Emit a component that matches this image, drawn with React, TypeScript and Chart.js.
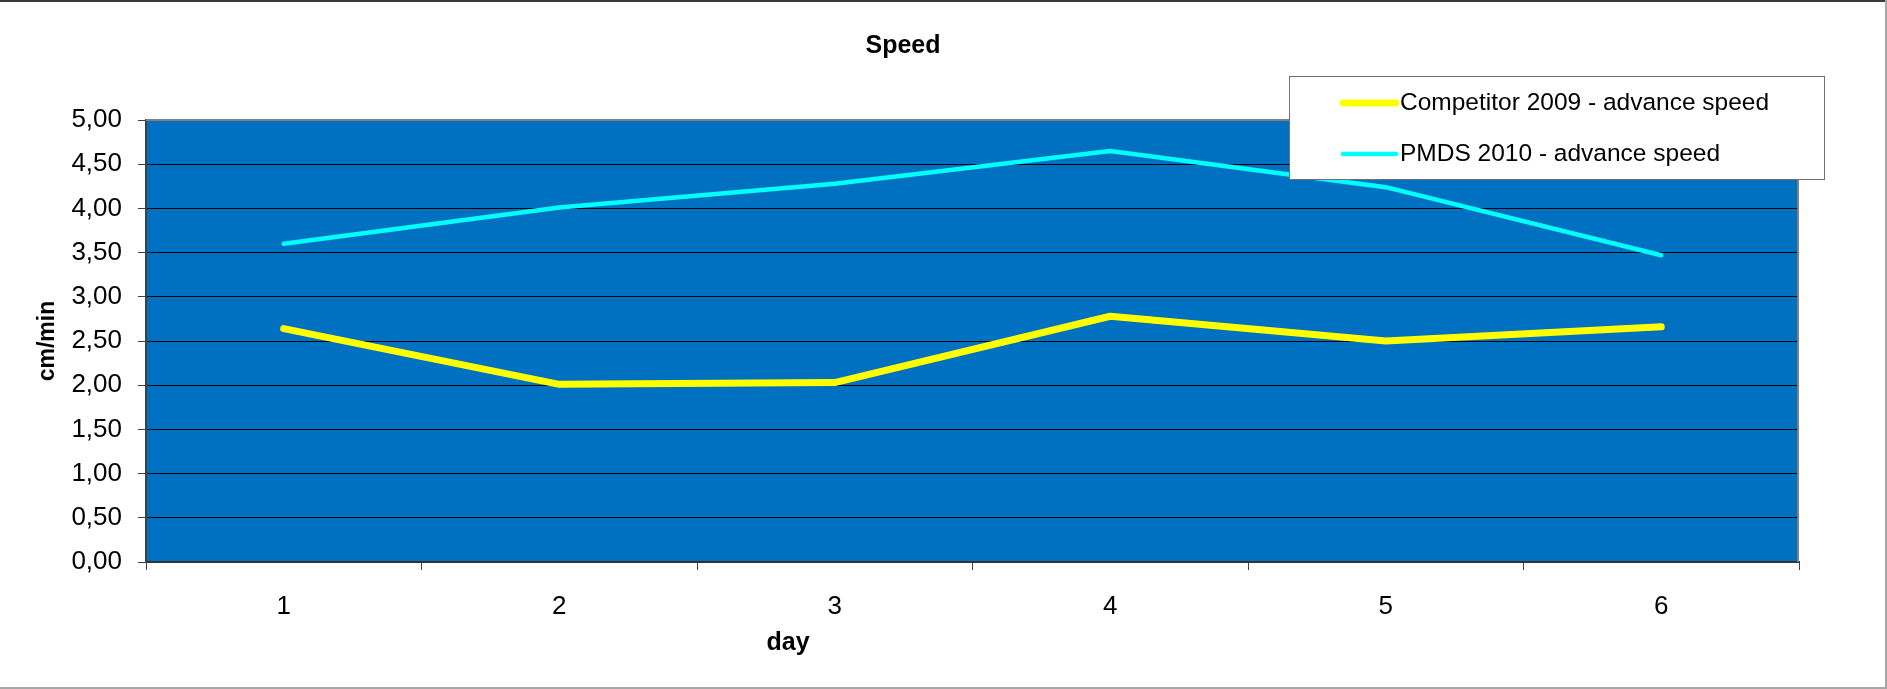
import { useEffect, useRef } from "react";
import { Chart, registerables } from "chart.js";

Chart.register(...registerables);

const days = ["1", "2", "3", "4", "5", "6"];
const competitor2009 = [2.64, 2.01, 2.03, 2.78, 2.5, 2.66];
const pmds2010 = [3.6, 4.01, 4.28, 4.65, 4.24, 3.47];
const seriesNames = ["Competitor 2009 - advance speed", "PMDS 2010 - advance speed"];
const seriesColors = ["#FFFF00", "#00FFFF"];
const seriesWidths = [7, 4.5];
const chartTitle = "Speed";
const xAxisTitle = "day";
const yAxisTitle = "cm/min";
const yMin = 0;
const yMax = 5;
const yStep = 0.5;

const W = 1887;
const H = 689;
const FONT = '"Liberation Sans", Arial, Helvetica, sans-serif';

const decorPlugin = {
  id: "decor",
  beforeDraw(chart: any) {
    const { ctx, chartArea } = chart;
    const { left, top, right, bottom } = chartArea;
    ctx.save();
    ctx.fillStyle = "#ffffff";
    ctx.fillRect(0, 0, W, H);
    ctx.fillStyle = "#0070C0";
    ctx.fillRect(left, top, right - left, bottom - top);
    ctx.restore();
  },
  afterDraw(chart: any) {
    const { ctx, chartArea } = chart;
    const { left, top, right, bottom } = chartArea;
    ctx.save();
    // plot top & right border (gray)
    ctx.strokeStyle = "#808080";
    ctx.lineWidth = 2;
    ctx.beginPath();
    ctx.moveTo(left, top);
    ctx.lineTo(right - 1, top);
    ctx.lineTo(right - 1, bottom);
    ctx.stroke();

    // title
    ctx.fillStyle = "#000";
    ctx.font = `bold 25px ${FONT}`;
    ctx.textAlign = "center";
    ctx.textBaseline = "middle";
    ctx.fillText(chartTitle, 903, 46);

    // x axis title
    ctx.font = `bold 25px ${FONT}`;
    ctx.fillText(xAxisTitle, 788, 643);

    // legend box
    const lx = 1289, ly = 76, lw = 535, lh = 103;
    ctx.fillStyle = "#ffffff";
    ctx.fillRect(lx, ly, lw, lh);
    ctx.strokeStyle = "#707070";
    ctx.lineWidth = 1;
    ctx.strokeRect(lx + 0.5, ly + 0.5, lw, lh);
    const rows = [103, 154];
    seriesNames.forEach((name, i) => {
      const y = rows[i];
      ctx.strokeStyle = seriesColors[i];
      ctx.lineWidth = seriesWidths[i];
      ctx.lineCap = "round";
      ctx.beginPath();
      ctx.moveTo(1343, y);
      ctx.lineTo(1396, y);
      ctx.stroke();
      ctx.fillStyle = "#000";
      ctx.font = `24.5px ${FONT}`;
      ctx.textAlign = "left";
      ctx.textBaseline = "middle";
      ctx.fillText(name, 1400, y);
    });

    // outer frame
    ctx.lineCap = "butt";
    ctx.lineWidth = 2;
    ctx.strokeStyle = "#3a3a3a";
    ctx.beginPath();
    ctx.moveTo(0, 1);
    ctx.lineTo(W, 1);
    ctx.stroke();
    ctx.strokeStyle = "#a6a6a6";
    ctx.beginPath();
    ctx.moveTo(W - 1, 0);
    ctx.lineTo(W - 1, H - 1);
    ctx.lineTo(0, H - 1);
    ctx.stroke();
    ctx.restore();
  },
};

export default function App() {
  const ref = useRef<HTMLCanvasElement | null>(null);

  useEffect(() => {
    document.body.style.margin = "0";
    const canvas = ref.current;
    if (!canvas) return;
    const chart = new Chart(canvas, {
      type: "line",
      data: {
        labels: days,
        datasets: [
          {
            label: seriesNames[0],
            data: competitor2009,
            borderColor: seriesColors[0],
            backgroundColor: seriesColors[0],
            borderWidth: seriesWidths[0],
            pointRadius: 0,
            tension: 0,
            borderCapStyle: "round",
            borderJoinStyle: "round",
            fill: false,
          },
          {
            label: seriesNames[1],
            data: pmds2010,
            borderColor: seriesColors[1],
            backgroundColor: seriesColors[1],
            borderWidth: seriesWidths[1],
            pointRadius: 0,
            tension: 0,
            borderCapStyle: "round",
            borderJoinStyle: "round",
            fill: false,
          },
        ],
      },
      options: {
        responsive: false,
        animation: false,
        devicePixelRatio: 1,
        events: [],
        layout: { padding: { left: 0, right: 88, top: 120, bottom: 0 } },
        plugins: {
          legend: { display: false },
          title: { display: false },
          tooltip: { enabled: false },
        },
        scales: {
          x: {
            type: "category",
            offset: true,
            grid: {
              offset: true,
              drawOnChartArea: false,
              drawTicks: true,
              tickLength: 8,
              color: "#404040",
              tickColor: "#404040",
            },
            border: { display: true, color: "#333333", width: 2 },
            ticks: {
              color: "#000",
              font: { family: FONT, size: 26 },
              padding: 21,
              maxRotation: 0,
              autoSkip: false,
            },
            title: { display: false, text: xAxisTitle },
            afterFit(scale: any) {
              scale.height = 127;
            },
          },
          y: {
            min: yMin,
            max: yMax,
            ticks: {
              stepSize: yStep,
              color: "#000",
              font: { family: FONT, size: 26 },
              padding: 16,
              callback: (v: any) => Number(v).toFixed(2).replace(".", ","),
            },
            grid: {
              color: "#000000",
              lineWidth: 1,
              drawTicks: true,
              tickLength: 8,
              tickColor: "#404040",
            },
            border: { display: true, color: "#404040", width: 2 },
            title: {
              display: true,
              text: yAxisTitle,
              color: "#000",
              font: { family: FONT, size: 23, weight: "bold" },
              padding: { top: 34, bottom: 0 },
            },
            afterFit(scale: any) {
              scale.width = 146;
            },
          },
        },
      },
      plugins: [decorPlugin],
    } as any);
    return () => chart.destroy();
  }, []);

  return (
    <div style={{ width: W, height: H }}>
      <canvas ref={ref} width={W} height={H} style={{ display: "block", width: W, height: H }} />
    </div>
  );
}
